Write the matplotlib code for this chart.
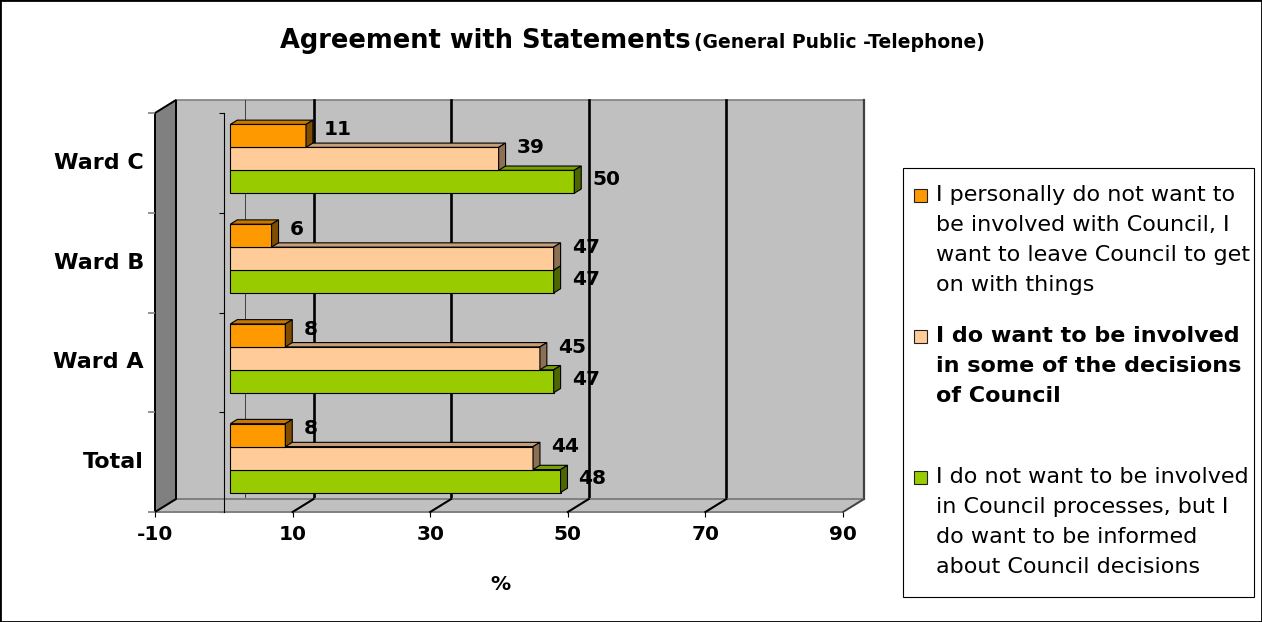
import matplotlib
matplotlib.use("Agg")
import matplotlib.pyplot as plt
from matplotlib.patches import Polygon, Rectangle
from matplotlib.markers import TICKLEFT

plt.rcParams["axes.unicode_minus"] = False

# data
categories = ["Total", "Ward A", "Ward B", "Ward C"]
not_involved = [8, 8, 6, 11]        # orange
some_decisions = [44, 45, 47, 39]   # peach
informed = [48, 47, 47, 50]         # green
x_ticks = [-10, 10, 30, 50, 70, 90]

legend_lines = [
    ["I personally do not want to", "be involved with Council, I",
     "want to leave Council to get", "on with things"],
    ["I do want to be involved", "in some of the decisions", "of Council"],
    ["I do not want to be involved", "in Council processes, but I",
     "do want to be informed", "about Council decisions"],
]

W, H = 1262, 622
fig = plt.figure(figsize=(W / 100, H / 100), dpi=100)

# front plane of the 3D box, in pixels
left_px, right_px, top_px, bot_px = 155, 843, 113, 512
ax = fig.add_axes([left_px / W, 1 - bot_px / H,
                   (right_px - left_px) / W, (bot_px - top_px) / H])
ax.set_xlim(-10, 90)
ax.set_ylim(-0.5, 3.5)
ax.autoscale(False)
ax.patch.set_visible(False)

# depth of the box in data units (21 px right, 13 px up)
DX = 21 / ((right_px - left_px) / 100)
DY = 13 / ((bot_px - top_px) / 4)
x0, x1, y0, y1 = -10, 90, -0.5, 3.5

# back wall
ax.add_patch(Rectangle((x0 + DX, y0 + DY), x1 - x0, y1 - y0, fc="#C0C0C0",
                       ec="#808080", lw=1.2, zorder=1, clip_on=False))
ax.plot([x1 + DX, x1 + DX], [y0 + DY, y1 + DY], color="#404040", lw=1.6,
        zorder=1.5, clip_on=False)
for v in x_ticks[1:-1]:
    ax.plot([v + DX, v + DX], [y0 + DY, y1 + DY], color="black", lw=1.9,
            zorder=2, clip_on=False)
ax.plot([DX, DX], [y0 + DY, y1 + DY], color="#404040", lw=0.7, zorder=2,
        clip_on=False)

# floor
ax.add_patch(Polygon([(x0, y0), (x1, y0), (x1 + DX, y0 + DY), (x0 + DX, y0 + DY)],
                     closed=True, fc="#C0C0C0", ec="#808080", lw=1.4, zorder=3,
                     clip_on=False))
ax.plot([x1, x1 + DX], [y0, y0 + DY], color="#404040", lw=1.2, zorder=3.2,
        clip_on=False)
for v in x_ticks[1:-1]:
    ax.plot([v, v + DX], [y0, y0 + DY], color="black", lw=1.5, zorder=3.5,
            clip_on=False)

# left wall
ax.add_patch(Polygon([(x0, y0), (x0, y1), (x0 + DX, y1 + DY), (x0 + DX, y0 + DY)],
                     closed=True, fc="#808080", ec="black", lw=1.4, zorder=4,
                     clip_on=False))
bounds = [c - 0.5 for c in range(len(categories) + 1)]
ax.plot([x0] * len(bounds), bounds, ls="none", marker=TICKLEFT, ms=5,
        mec="#808080", mew=1.2, zorder=4, clip_on=False)

# category axis bracket at x = 0
ax.spines[["top", "right", "bottom"]].set_visible(False)
ax.spines["left"].set_position(("data", 0))
ax.spines["left"].set_linewidth(0.8)
ax.spines["left"].set_zorder(5)
ax.set_yticks(bounds)
ax.set_yticklabels([])
ax.tick_params(axis="y", length=3.6, width=0.8, direction="out")

# x axis
ax.set_xticks(x_ticks)
ax.set_xticklabels([str(t) for t in x_ticks], fontsize=14.5, fontweight="bold")
ax.tick_params(axis="x", length=3.6, width=0.8, pad=6)
ax.set_xlabel("%", fontsize=14.5, fontweight="bold")
ax.xaxis.set_label_coords((500 - left_px) / (right_px - left_px),
                          -(585 - bot_px) / (bot_px - top_px))
ax.xaxis.label.set_va("center")

for i, name in enumerate(categories):
    ax.annotate(name, (x0, i), xytext=(-8, 0), textcoords="offset points",
                ha="right", va="center", fontsize=16, fontweight="bold")

# 3D bars
f1, f2 = 0.31, 0.64
bh = 0.23
series = [
    (informed, -bh, "#99CC00", "#779F00", "#4D6600", 1.5),
    (some_decisions, 0.0, "#FFCC99", "#C79F77", "#8C7054", 8.0),
    (not_involved, bh, "#FF9900", "#C87800", "#804D00", 4.5),
]
z = 10
for i in range(len(categories)):
    for vals, shift, front, top, side, lab_dy in series:
        v = vals[i]
        yc = i + shift + f1 * DY
        yb, yt = yc - bh / 2, yc + bh / 2
        ax.barh([yc], [v], height=bh, left=f1 * DX, color=front,
                edgecolor="black", linewidth=0.8, zorder=z)
        dxx, dyy = (f2 - f1) * DX, (f2 - f1) * DY
        xs, xe = f1 * DX, v + f1 * DX
        ax.add_patch(Polygon([(xs, yt), (xe, yt), (xe + dxx, yt + dyy), (xs + dxx, yt + dyy)],
                             closed=True, fc=top, ec="black", lw=0.8, zorder=z,
                             clip_on=False))
        ax.add_patch(Polygon([(xe, yb), (xe + dxx, yb + dyy), (xe + dxx, yt + dyy), (xe, yt)],
                             closed=True, fc=side, ec="black", lw=0.8, zorder=z,
                             clip_on=False))
        ax.annotate(str(v), (xe, yc), xytext=(13, lab_dy), textcoords="offset points",
                    ha="left", va="center", fontsize=14.5, fontweight="bold",
                    zorder=40)
        z += 1

# title
fig.text(280 / W, 1 - 48 / H, "Agreement with Statements", fontsize=18.5,
         fontweight="bold", ha="left", va="baseline")
fig.text(694 / W, 1 - 48 / H, "(General Public -Telephone)", fontsize=13.5,
         fontweight="bold", ha="left", va="baseline")

# legend box
fig.add_artist(Rectangle((903 / W, 1 - 597 / H), (1254 - 903) / W, (597 - 168) / H,
                         transform=fig.transFigure, fc="white", ec="black", lw=0.8))
entry_y = [195, 336, 477]
colors = ["#FF9900", "#FFCC99", "#99CC00"]
weights = ["normal", "bold", "normal"]
for lines, ey, c, wgt in zip(legend_lines, entry_y, colors, weights):
    fig.add_artist(Rectangle((914 / W, 1 - (ey + 7) / H), 13 / W, 13 / H,
                             transform=fig.transFigure, fc=c, ec="#202020", lw=0.8))
    for k, line in enumerate(lines):
        fig.text(936 / W, 1 - (ey + 30 * k) / H, line, fontsize=16,
                 fontweight=wgt, ha="left", va="center")

# outer frame
fig.add_artist(Rectangle((0, 0), 1, 1, transform=fig.transFigure, fill=False,
                         ec="black", lw=2))

fig.savefig("out.png", dpi=100)
